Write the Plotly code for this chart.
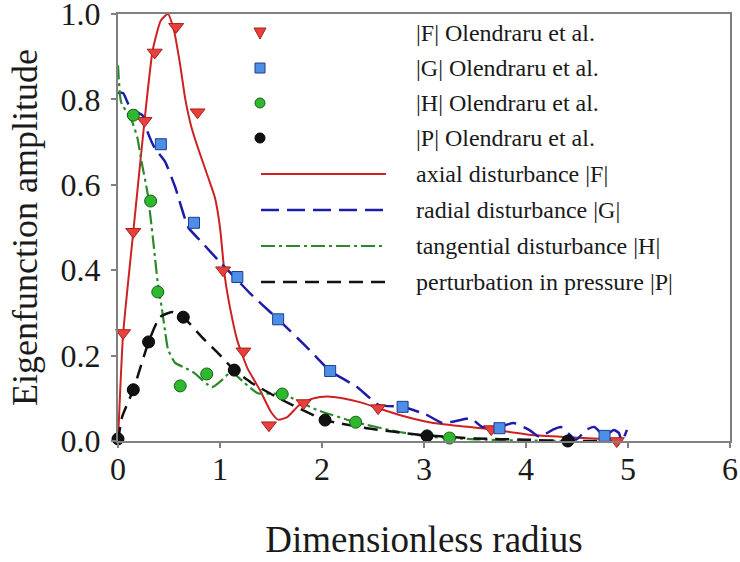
import plotly.graph_objects as go

# ---------------- data ----------------
# Olendraru et al. reference points
f_obs_x = [0.05, 0.15, 0.26, 0.36, 0.57, 0.78, 1.03, 1.23, 1.48, 1.82, 2.55, 3.66, 4.89]
f_obs_y = [0.253, 0.49, 0.75, 0.91, 0.97, 0.77, 0.40, 0.21, 0.037, 0.089, 0.077, 0.028, 0.0]

g_obs_x = [0.42, 0.745, 1.17, 1.57, 2.08, 2.79, 3.74, 4.77]
g_obs_y = [0.695, 0.511, 0.384, 0.285, 0.164, 0.08, 0.03, 0.012]

h_obs_x = [0.15, 0.32, 0.39, 0.61, 0.87, 1.61, 2.33, 3.25]
h_obs_y = [0.763, 0.562, 0.349, 0.129, 0.157, 0.11, 0.044, 0.007]

p_obs_x = [0.0, 0.15, 0.30, 0.64, 1.14, 2.03, 3.03, 4.41]
p_obs_y = [0.005, 0.12, 0.232, 0.29, 0.166, 0.049, 0.012, 0.0]

# present computations (curves)
f_x = [0, 0.05, 0.15, 0.26, 0.34, 0.42, 0.49, 0.55, 0.61, 0.66, 0.72, 0.80, 0.88, 0.95, 1.0,
       1.05, 1.10, 1.17, 1.27, 1.39, 1.50, 1.57, 1.66, 1.78, 1.92, 2.05, 2.20, 2.37, 2.55,
       2.76, 3.05, 3.35, 3.64, 4.06, 4.40, 4.72, 4.95]
f_y = [0, 0.25, 0.49, 0.75, 0.915, 0.985, 1.0, 0.96, 0.88, 0.80, 0.735, 0.675, 0.62, 0.57, 0.50,
       0.38, 0.31, 0.235, 0.17, 0.12, 0.068, 0.05, 0.056, 0.085, 0.10, 0.104, 0.10, 0.091, 0.077,
       0.061, 0.044, 0.035, 0.028, 0.014, 0.009, 0.005, 0.0]

g_x = [0, 0.05, 0.10, 0.19, 0.24, 0.29, 0.36, 0.46, 0.56, 0.69, 0.82, 0.98, 1.17, 1.29, 1.41,
       1.57, 1.85, 2.08, 2.34, 2.56, 2.79, 3.02, 3.18, 3.28, 3.46, 3.57, 3.74, 3.88, 4.03, 4.13,
       4.26, 4.34, 4.49, 4.59, 4.67, 4.77, 4.86, 4.91, 4.94, 4.99]
g_y = [0.815, 0.815, 0.79, 0.77, 0.763, 0.724, 0.686, 0.655, 0.595, 0.50, 0.466, 0.424, 0.377,
       0.347, 0.32, 0.285, 0.22, 0.164, 0.127, 0.084, 0.08, 0.062, 0.042, 0.045, 0.053, 0.033,
       0.033, 0.042, 0.026, 0.01, 0.026, 0.033, 0.003, 0.026, 0.033, 0.012, 0.026, 0.019, 0.0, 0.026]

h_x = [0, 0.01, 0.03, 0.14, 0.19, 0.23, 0.29, 0.34, 0.39, 0.43, 0.46, 0.49, 0.56, 0.66, 0.75,
       0.92, 1.02, 1.11, 1.24, 1.37, 1.61, 1.95, 2.33, 2.76, 3.05, 3.5, 4.0, 4.5]
h_y = [0.88, 0.84, 0.794, 0.747, 0.71, 0.655, 0.58, 0.48, 0.37, 0.31, 0.26, 0.215, 0.183, 0.171,
       0.159, 0.126, 0.143, 0.162, 0.136, 0.112, 0.11, 0.073, 0.044, 0.021, 0.01, 0.004, 0.001, 0.0]

p_x = [0, 0.04, 0.15, 0.30, 0.41, 0.53, 0.64, 0.82, 0.98, 1.14, 1.31, 1.61, 2.03, 2.44, 2.98,
       3.5, 4.0, 4.41, 4.7]
p_y = [0, 0.056, 0.12, 0.232, 0.29, 0.302, 0.29, 0.244, 0.206, 0.166, 0.136, 0.096, 0.049, 0.03,
       0.014, 0.006, 0.003, 0.0, 0.0]

obs_names = ["|F| Olendraru et al.", "|G| Olendraru et al.",
             "|H| Olendraru et al.", "|P| Olendraru et al."]
curve_names = ["axial disturbance |F|", "radial disturbance |G|",
               "tangential disturbance |H|", "perturbation in pressure |P|"]

x_ticks = [0, 1, 2, 3, 4, 5, 6]
y_ticks = [0.0, 0.2, 0.4, 0.6, 0.8, 1.0]

# ---------------- styles ----------------
FONT = "Liberation Serif"
TXT = "#1a1a1a"
RED, BLUE, GREEN, BLACK = "#cc2222", "#1c1ca8", "#2a8a2a", "#111111"
obs_style = [
    dict(symbol="triangle-down", size=13, color="#e8413c", line=dict(color="#a82020", width=1)),
    dict(symbol="square", size=11, color="#4d8fe8", line=dict(color="#1e3c8c", width=1)),
    dict(symbol="circle", size=12, color="#2db82d", line=dict(color="#1a5e1a", width=1)),
    dict(symbol="circle", size=12, color="#111111", line=dict(color="#000000", width=1)),
]
curve_style = [
    dict(color=RED, width=2, dash="solid"),
    dict(color=BLUE, width=2.5, dash="18px,8px"),
    dict(color=GREEN, width=2.2, dash="14px,4px,3px,4px"),
    dict(color=BLACK, width=2.5, dash="14px,8px"),
]

W, H = 740, 562
ML, MR, MT, MB = 118, 10, 14, 121
PW, PH = W - ML - MR, H - MT - MB

fig = go.Figure()
curves = [(f_x, f_y), (g_x, g_y), (h_x, h_y), (p_x, p_y)]
obs = [(f_obs_x, f_obs_y), (g_obs_x, g_obs_y), (h_obs_x, h_obs_y), (p_obs_x, p_obs_y)]

for (cx, cy), name, st in zip(curves, curve_names, curve_style):
    fig.add_trace(go.Scatter(x=cx, y=cy, mode="lines", name=name,
                             line=dict(shape="spline", smoothing=0.5, **st),
                             showlegend=False, cliponaxis=True))
for (ox, oy), name, st in zip(obs, obs_names, obs_style):
    fig.add_trace(go.Scatter(x=ox, y=oy, mode="markers", name=name, marker=st,
                             showlegend=False, cliponaxis=False))

# ---------------- manual legend (layout geometry) ----------------
def pxx(px):
    return (px - ML) / PW

def pxy(py):
    return (H - MB - py) / PH

leg_rows = [33, 68, 103, 138, 174, 210, 246, 282]
sym_cx, line_x0, line_x1, text_x = 260, 261, 386, 414
shapes = []
annotations = []
marker_paths = {
    "triangle-down": "M-6,5 L6,5 L0,-6 Z",
    "square": "M-5,-5 L5,-5 L5,5 L-5,5 Z",
}
for i, st in enumerate(obs_style):
    yv = pxy(leg_rows[i])
    if st["symbol"] == "circle":
        shapes.append(dict(type="circle", xref="paper", yref="paper", xsizemode="pixel", ysizemode="pixel",
                           xanchor=pxx(sym_cx), yanchor=yv, x0=-5, x1=5, y0=-5, y1=5,
                           fillcolor=st["color"], line=dict(color=st["line"]["color"], width=1)))
    else:
        shapes.append(dict(type="path", xref="paper", yref="paper", xsizemode="pixel", ysizemode="pixel",
                           xanchor=pxx(sym_cx), yanchor=yv, path=marker_paths[st["symbol"]],
                           fillcolor=st["color"], line=dict(color=st["line"]["color"], width=1)))
    annotations.append(dict(x=pxx(text_x), y=yv, xref="paper", yref="paper", text=obs_names[i],
                            showarrow=False, xanchor="left", yanchor="middle",
                            font=dict(family=FONT, size=24, color=TXT)))
for j, st in enumerate(curve_style):
    yv = pxy(leg_rows[4 + j])
    shapes.append(dict(type="line", xref="paper", yref="paper", x0=pxx(line_x0), x1=pxx(line_x1),
                       y0=yv, y1=yv, line=dict(color=st["color"], width=st["width"], dash=st["dash"])))
    annotations.append(dict(x=pxx(text_x), y=yv, xref="paper", yref="paper", text=curve_names[j],
                            showarrow=False, xanchor="left", yanchor="middle",
                            font=dict(family=FONT, size=24, color=TXT)))

axis_common = dict(showline=True, mirror=True, linecolor="#808080", linewidth=2,
                   ticks="outside", ticklen=5, tickwidth=1.5, tickcolor="#808080",
                   showgrid=False, zeroline=False, ticklabeloverflow="allow", automargin=False,
                   tickfont=dict(family=FONT, size=32, color=TXT))

fig.update_layout(
    width=W, height=H,
    margin=dict(l=ML, r=MR, t=MT, b=MB, autoexpand=False),
    paper_bgcolor="white", plot_bgcolor="white",
    showlegend=False,
    shapes=shapes, annotations=annotations,
    xaxis=dict(range=[0, 6], tickvals=x_ticks, ticktext=[str(v) for v in x_ticks],
               ticklabelstandoff=-6,
               title=dict(text="Dimensionless radius", font=dict(family=FONT, size=37, color=TXT), standoff=40),
               **axis_common),
    yaxis=dict(range=[0, 1], tickvals=y_ticks, ticktext=[f"{v:.1f}" for v in y_ticks],
               ticklabelstandoff=4,
               title=dict(text="Eigenfunction amplitude", font=dict(family=FONT, size=36, color=TXT), standoff=12),
               **axis_common),
)

fig.write_html("out.html", config={"displayModeBar": False},
               post_script="document.body.style.margin='0px';")
